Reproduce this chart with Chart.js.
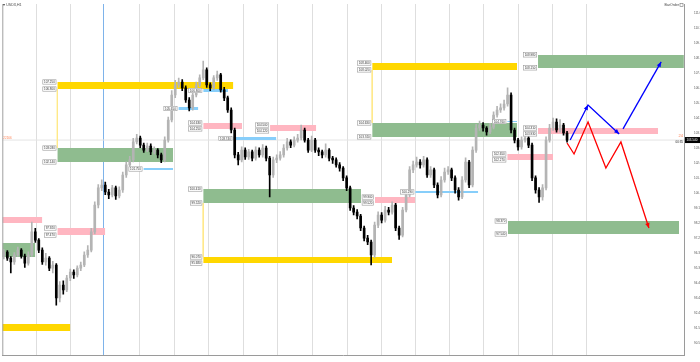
<!DOCTYPE html>
<html lang="en">
<head>
<meta charset="UTF-8" />
<title>USDX,H1</title>
<script src="https://cdn.jsdelivr.net/npm/chart.js@4.4.1/dist/chart.umd.min.js"></script>
<style>
  html, body { margin: 0; padding: 0; background: #fff; }
  #wrap { width: 700px; height: 362px; }
</style>
</head>
<body>
<div id="wrap"><canvas id="chart" width="700" height="362"></canvas></div>
<script>
// H1 candles (bar index = position on the time axis)
const opens = [96.10,96.39,96.00,95.75,96.20,96.51,96.13,95.68,96.20,97.67,
  97.15,96.51,95.75,96.00,95.36,95.56,93.45,94.28,93.96,94.73,
  95.11,94.92,95.36,95.56,96.20,96.51,97.67,99.39,100.48,100.67,
  100.22,100.03,100.48,99.97,100.35,101.31,101.95,102.27,103.42,103.67,
  103.22,102.90,103.16,102.78,102.90,102.59,102.27,103.54,104.82,106.42,
  107.06,107.25,106.87,106.10,105.59,106.42,107.06,107.51,108.02,107.06,
  106.87,107.51,107.70,106.74,106.23,105.46,104.18,102.59,102.27,102.90,
  102.46,102.78,102.39,102.90,102.59,103.03,102.39,101.31,102.27,102.39,
  102.59,103.03,103.42,103.22,103.54,103.67,104.18,103.54,102.90,103.54,
  102.90,102.78,102.59,102.90,102.39,102.27,101.95,101.75,101.12,100.48,
  99.20,98.94,98.69,97.92,97.28,97.03,96.20,98.11,98.75,98.43,
  99.07,98.94,99.39,97.92,97.47,99.07,100.03,101.63,101.95,102.14,
  101.95,102.27,101.31,101.63,100.67,100.03,100.99,101.50,101.63,101.12,
  100.35,99.90,100.99,102.14,100.67,102.90,104.31,104.50,104.31,104.06,
  104.37,105.14,105.46,105.59,105.84,106.42,104.18,103.54,103.10,103.54,
  103.67,103.22,101.12,100.35,99.90,100.48,103.54,104.31,104.69,104.18,
  104.50,103.99];
const highs = [96.55,96.48,96.10,96.35,96.70,96.60,96.25,96.40,98.30,97.90,
  97.25,96.65,96.30,96.10,95.80,95.65,94.50,94.55,94.90,95.30,
  95.25,95.50,95.75,96.40,96.80,97.90,99.60,100.70,101.00,100.85,
  100.40,100.65,100.60,100.55,101.50,102.15,102.50,103.65,103.90,103.80,
  103.35,103.35,103.30,103.10,103.00,102.70,103.75,105.00,106.70,107.35,
  107.50,107.40,107.00,106.25,106.60,107.25,107.70,108.59,108.15,107.20,
  107.65,107.95,107.80,106.90,106.35,105.60,104.30,102.75,103.10,103.05,
  102.95,102.90,103.10,103.05,103.25,103.15,102.50,102.45,102.60,102.80,
  103.25,103.65,103.55,103.75,103.90,104.50,104.30,103.65,103.80,103.65,
  103.05,102.90,103.30,103.00,102.50,102.40,102.10,101.85,101.25,100.60,
  99.35,99.10,98.80,98.05,97.45,97.15,98.30,98.95,98.90,99.30,
  99.25,99.60,99.50,98.05,99.25,100.25,101.85,102.20,102.45,102.30,
  102.50,102.40,101.85,101.75,100.80,101.20,101.75,101.85,101.75,101.25,
  100.50,101.20,102.40,102.25,103.10,104.55,104.75,104.65,104.40,104.60,
  105.35,105.70,105.85,106.10,106.87,106.55,104.30,103.65,103.75,103.95,
  103.80,103.35,101.25,100.50,100.70,103.75,104.55,104.95,104.90,104.85,
  104.60,104.10];
const lows = [95.95,95.85,95.05,95.60,96.10,96.00,95.40,95.55,96.10,97.00,
  96.35,95.60,95.55,95.20,95.05,93.00,93.20,93.70,93.85,94.55,
  94.70,94.80,95.20,95.45,96.05,96.40,97.55,99.20,100.30,100.05,
  99.80,99.90,99.75,99.85,100.20,101.15,101.80,102.15,103.30,103.05,
  102.75,102.80,102.60,102.65,102.40,102.10,102.15,103.40,104.70,106.25,
  106.90,106.70,105.95,105.40,105.45,106.30,106.95,107.40,106.90,106.70,
  106.75,107.35,106.60,106.05,105.30,104.00,102.40,101.95,102.15,102.30,
  102.30,102.20,102.25,102.45,102.45,102.20,99.90,101.15,102.10,102.25,
  102.45,102.90,103.05,103.10,103.40,103.55,103.40,102.75,102.80,102.75,
  102.55,102.40,102.45,102.20,102.05,101.80,101.55,100.95,100.30,99.05,
  98.75,98.50,97.75,97.10,96.85,95.56,96.05,97.95,98.25,98.30,
  98.75,98.80,97.75,97.20,97.35,98.95,99.90,101.45,101.80,101.75,
  101.80,101.15,101.15,100.50,99.85,99.90,100.85,101.35,100.95,100.15,
  99.70,99.80,100.85,100.50,100.55,102.75,104.15,104.10,103.85,103.95,
  104.25,105.00,105.30,105.45,105.70,104.00,103.35,102.90,102.95,103.40,
  103.05,100.95,100.15,99.55,99.70,100.35,103.40,104.15,104.05,104.05,
  103.85,103.40];
const closes = [96.39,96.00,95.75,96.20,96.51,96.13,95.68,96.20,97.67,97.15,
  96.51,95.75,96.00,95.36,95.56,93.45,94.28,93.96,94.73,95.11,
  94.92,95.36,95.56,96.20,96.51,97.67,99.39,100.48,100.67,100.22,
  100.03,100.48,99.97,100.35,101.31,101.95,102.27,103.42,103.67,103.22,
  102.90,103.16,102.78,102.90,102.59,102.27,103.54,104.82,106.42,107.06,
  107.25,106.87,106.10,105.59,106.42,107.06,107.51,108.02,107.06,106.87,
  107.51,107.70,106.74,106.23,105.46,104.18,102.59,102.27,102.90,102.46,
  102.78,102.39,102.90,102.59,103.03,102.39,101.31,102.27,102.39,102.59,
  103.03,103.42,103.22,103.54,103.67,104.18,103.54,102.90,103.54,102.90,
  102.78,102.59,102.90,102.39,102.27,101.95,101.75,101.12,100.48,99.20,
  98.94,98.69,97.92,97.28,97.03,96.20,98.11,98.75,98.43,99.07,
  98.94,99.39,97.92,97.47,99.07,100.03,101.63,101.95,102.14,101.95,
  102.27,101.31,101.63,100.67,100.03,100.99,101.50,101.63,101.12,100.35,
  99.90,100.99,102.14,100.67,102.90,104.31,104.50,104.31,104.06,104.37,
  105.14,105.46,105.59,105.84,106.42,104.18,103.54,103.10,103.54,103.67,
  103.22,101.12,100.35,99.90,100.48,103.54,104.31,104.69,104.18,104.50,
  103.99,103.54];

// time axis
const timeLabels = ['7 Apr 2022','8 Apr 20:00','11 Apr 17:00','12 Apr 09:00','13 Apr 14:00',
  '14 Apr 06:00','18 Apr 05:00','19 Apr 10:00','19 Apr 20:00','20 Apr 15:00','21 Apr 05:00',
  '22 Apr 13:00','25 Apr 18:00','26 Apr 07:00','27 Apr 10:00','28 Apr 06:00','28 Apr 22:00',
  '29 Apr 18:00','2 May 13:00'];
const timeLabelPos = [1.3,9.9,18.4,27.0,35.6,44.1,52.7,61.3,69.9,78.4,87.0,95.6,104.1,
  112.7,121.3,129.9,138.4,147.0,155.6];
const gridPos = [9.3,19.0,28.5,38.7,48.7,58.4,68.4,78.1,88.1,98.1,107.9,117.6,127.3,
  137.0,147.0,156.7,166.7];
const priceTicks = [111.659,110.701,109.742,108.784,107.825,106.867,105.908,104.950,
  103.991,103.033,102.074,101.116,100.157,99.199,98.240,97.282,96.323,95.365,94.406,
  93.448,92.489,91.531,90.572];

// zones: [fromBar, toBar, top, bottom]
const yellowZones = [[-0.5,19.0,91.79,91.34],[15.3,65.6,107.25,106.80],
  [57.0,111.0,96.07,95.68],[105.3,146.7,108.46,108.02]];
const greenZones = [[-0.5,9.0,96.96,96.07],[15.3,48.4,103.03,102.14],[57.0,102.1,100.41,99.52],
  [105.3,146.7,104.63,103.74],[152.7,194.4,108.98,108.15],[144.1,193.0,98.37,97.54]];
const pinkZones = [[-0.5,11.0,98.62,98.24],[15.3,29.0,97.92,97.47],[57.0,68.1,104.63,104.25],
  [76.1,89.3,104.50,104.12],[106.1,117.6,99.90,99.52],[143.9,157.0,102.65,102.27],
  [152.7,187.0,104.31,103.93]];
const blueZones = [[39.9,48.4,101.75,101.63],[49.9,55.6,105.65,105.46],[57.0,64.1,106.80,106.61],
  [65.6,77.9,103.74,103.54],[117.6,135.6,100.29,100.16],[143.9,146.7,104.76,104.69]];
// thin yellow links: [bar, from, to]
const links = [[15.3,106.80,103.03],[57.0,99.52,96.07],[105.3,108.02,104.63]];

// hand-drawn scenarios
const blueLegX = [161.9,167.0,175.9], blueLegY = [103.54,105.78,103.93];
const blueUpX = [177.0,187.9], blueUpY = [104.25,108.53];
const redX = [161.0,163.0,167.0,172.1,176.4,184.4];
const redY = [103.35,102.65,104.69,101.75,103.42,97.92];

const xMin = -0.43, xMax = 194.43, yMin = 89.81, yMax = 112.23;
const lastPrice = closes[closes.length - 1];
const tinyFont = { family: '"Liberation Sans", Arial, sans-serif', size: 3 };

const bull = '#b4b4b4', bear = '#000000';
const candleColor = closes.map((c, i) => c >= opens[i] ? bull : bear);

const datasets = [];

function addZones(list, color) {
  list.forEach(z => {
    datasets.push({
      type: 'line', data: [{x: z[0], y: z[2]}, {x: z[1], y: z[2]}],
      fill: {value: z[3]}, backgroundColor: color, borderColor: 'transparent',
      borderWidth: 0, pointRadius: 0, order: 6
    });
  });
}
addZones(yellowZones, '#ffd700');
addZones(greenZones, '#8fbc8f');
addZones(pinkZones, '#ffb6c1');
addZones(blueZones, '#87cefa');

links.forEach(l => {
  datasets.push({
    type: 'line', data: [{x: l[0], y: l[1]}, {x: l[0], y: l[2]}],
    borderColor: '#ffe98a', borderWidth: 1, pointRadius: 0, fill: false, order: 5
  });
});

datasets.push({
  type: 'line', data: [{x: xMin, y: lastPrice}, {x: xMax, y: lastPrice}],
  borderColor: '#e4e4e4', borderWidth: 1, pointRadius: 0, fill: false, order: 7
});

datasets.push({
  type: 'bar', data: closes.map((c, i) => ({x: i, y: [lows[i], highs[i]]})),
  backgroundColor: candleColor, barThickness: 1, grouped: false, order: 3
});
datasets.push({
  type: 'bar', data: closes.map((c, i) => ({x: i, y: [opens[i], c]})),
  backgroundColor: candleColor, barThickness: 2, grouped: false, order: 2
});

function addPath(xs, ys, color) {
  datasets.push({
    type: 'line', data: xs.map((v, i) => ({x: v, y: ys[i]})),
    borderColor: color, borderWidth: 1.3, pointRadius: 0, fill: false, tension: 0, order: 1
  });
}
addPath(blueLegX, blueLegY, '#0000ff');
addPath(blueUpX, blueUpY, '#0000ff');
addPath(redX, redY, '#ff0000');

const overlay = {
  id: 'overlay',
  afterDatasetsDraw(chart) {
    const {ctx, chartArea} = chart;
    const x = chart.scales.x, y = chart.scales.y;
    ctx.save();
    ctx.font = '3px "Liberation Sans", Arial, sans-serif';
    ctx.textBaseline = 'middle';

    // left frame line
    ctx.strokeStyle = '#a0a0a0';
    ctx.lineWidth = 1;
    ctx.beginPath();
    ctx.moveTo(chartArea.left + 0.5, chartArea.top);
    ctx.lineTo(chartArea.left + 0.5, chartArea.bottom);
    ctx.stroke();

    function tag(px, py, txt) {
      const w = ctx.measureText(txt).width + 3, h = 5;
      ctx.fillStyle = '#ffffff';
      ctx.fillRect(px - w, py - h / 2, w, h);
      ctx.strokeStyle = '#9a9a9a';
      ctx.lineWidth = 0.6;
      ctx.strokeRect(px - w + 0.3, py - h / 2 + 0.3, w - 0.6, h - 0.6);
      ctx.fillStyle = '#333';
      ctx.textAlign = 'right';
      ctx.fillText(txt, px - 1.5, py + 0.2);
    }
    [yellowZones, greenZones, pinkZones].forEach(list => list.forEach(z => {
      if (z[0] < 0) return;
      const px = x.getPixelForValue(z[0]) - 1;
      tag(px, y.getPixelForValue(z[2]), z[2].toFixed(3));
      tag(px, y.getPixelForValue(z[3]), z[3].toFixed(3));
    }));
    blueZones.forEach(z => {
      const px = x.getPixelForValue(z[0]) - 1;
      tag(px, y.getPixelForValue((z[2] + z[3]) / 2), z[2].toFixed(3));
    });

    function head(xs, ys, k, color) {
      const x1 = x.getPixelForValue(xs[k - 1]), y1 = y.getPixelForValue(ys[k - 1]);
      const x2 = x.getPixelForValue(xs[k]), y2 = y.getPixelForValue(ys[k]);
      const a = Math.atan2(y2 - y1, x2 - x1), L = 5, W = 2.2;
      ctx.fillStyle = color;
      ctx.beginPath();
      ctx.moveTo(x2, y2);
      ctx.lineTo(x2 - L * Math.cos(a) + W * Math.sin(a), y2 - L * Math.sin(a) - W * Math.cos(a));
      ctx.lineTo(x2 - L * Math.cos(a) - W * Math.sin(a), y2 - L * Math.sin(a) + W * Math.cos(a));
      ctx.closePath();
      ctx.fill();
    }
    head(blueLegX, blueLegY, 1, '#0000ff');
    head(blueLegX, blueLegY, 2, '#0000ff');
    head(blueUpX, blueUpY, 1, '#0000ff');
    head(redX, redY, redX.length - 1, '#ff0000');

    // current price
    const py = y.getPixelForValue(lastPrice);
    ctx.fillStyle = '#000';
    ctx.fillRect(chartArea.right + 1, py - 3, 15, 6);
    ctx.fillStyle = '#fff';
    ctx.textAlign = 'left';
    ctx.fillText(lastPrice.toFixed(3), chartArea.right + 2.5, py + 0.2);
    ctx.fillStyle = '#ff7f50';
    ctx.textAlign = 'right';
    ctx.font = '4px "Liberation Sans", Arial, sans-serif';
    ctx.fillText('24', chartArea.right - 1, py - 4);
    ctx.fillStyle = '#222';
    ctx.font = '3px "Liberation Sans", Arial, sans-serif';
    ctx.fillText('00:35', chartArea.right - 1, py + 2.5);
    ctx.fillStyle = '#ff7f50';
    ctx.textAlign = 'left';
    ctx.fillText('22166', chartArea.left + 1, py - 2);

    // corner captions
    ctx.fillStyle = '#444';
    ctx.font = '3.5px "Liberation Sans", Arial, sans-serif';
    ctx.fillText('\u25BE USDX,H1', chartArea.left + 1, chartArea.top + 1.5);
    ctx.textAlign = 'right';
    ctx.fillText('BarOrder', chartArea.right - 5, chartArea.top + 1.5);
    ctx.strokeStyle = '#777';
    ctx.lineWidth = 0.6;
    ctx.strokeRect(chartArea.right - 4, chartArea.top - 0.5, 3, 3);
    ctx.restore();
  }
};

new Chart(document.getElementById('chart'), {
  type: 'bar',
  data: { datasets },
  plugins: [overlay],
  options: {
    responsive: false,
    animation: false,
    devicePixelRatio: 1,
    layout: { padding: { left: 2, top: 4, right: 0, bottom: 0 } },
    plugins: { legend: { display: false }, tooltip: { enabled: false } },
    scales: {
      x: {
        type: 'linear', position: 'bottom', min: xMin, max: xMax, offset: false,
        afterBuildTicks: axis => { axis.ticks = timeLabelPos.map(v => ({ value: v })); },
        afterFit: axis => { axis.height = 7; },
        ticks: { callback: (v, i) => timeLabels[i], autoSkip: false, maxRotation: 0,
          font: tinyFont, color: '#555', padding: 1 },
        grid: { display: false, offset: false },
        border: { color: '#9a9a9a' }
      },
      xg: {
        type: 'linear', position: 'top', min: xMin, max: xMax, offset: false,
        afterBuildTicks: axis => { axis.ticks = gridPos.map(v => ({ value: v })); },
        afterFit: axis => { axis.height = 0; },
        ticks: { display: false },
        grid: { drawTicks: false, offset: false, color: c => c.index === 2 ? '#7eb3ea' : '#dedede', lineWidth: 1 },
        border: { display: false }
      },
      y: {
        type: 'linear', position: 'right', min: yMin, max: yMax,
        afterBuildTicks: axis => { axis.ticks = priceTicks.map(v => ({ value: v })); },
        afterFit: axis => { axis.width = 16; },
        ticks: { callback: v => v.toFixed(3), autoSkip: false, font: tinyFont, color: '#555', padding: 2 },
        grid: { display: false },
        border: { color: '#9a9a9a' }
      }
    }
  }
});
</script>
</body>
</html>
